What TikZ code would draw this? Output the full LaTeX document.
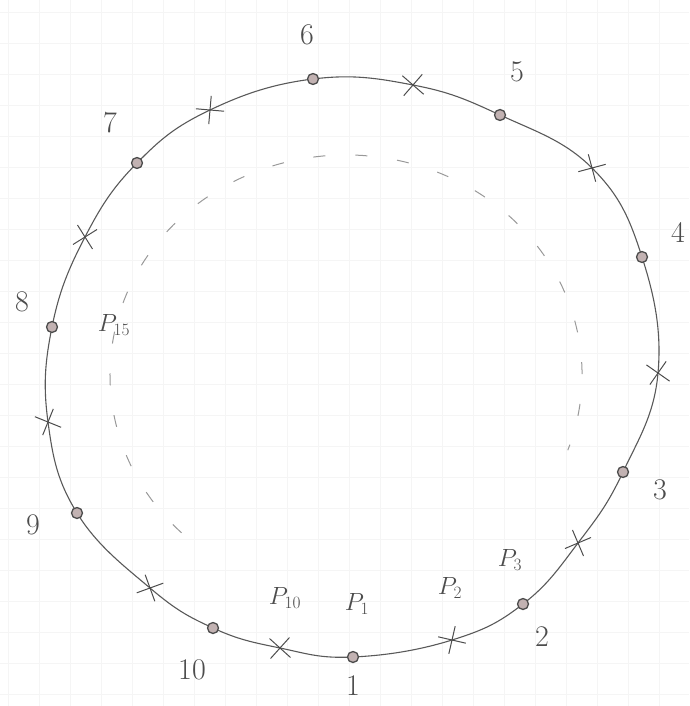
\documentclass[tikz,border=0pt]{standalone}
\usepackage{tikz}
\usetikzlibrary{shapes.misc}
\tikzstyle{ring}=[circle, draw=black!70, fill=red!20!black!30, line width=1.3pt, minimum size=11pt, inner sep=0pt]
\tikzstyle{xmark}=[cross out, draw=black!70, line width=1pt, minimum size=19pt, inner sep=0pt]
\tikzstyle{lab}=[text=black!70, inner sep=0pt, font=\fontsize{30}{34}\selectfont]
\tikzstyle{plab}=[text=black!70, inner sep=0pt, font=\fontsize{24}{28}\selectfont]
\tikzstyle{pencil}=[draw=black!65, line width=1.1pt]

\begin{document}
\begin{tikzpicture}[x=1pt,y=-1pt]
    \useasboundingbox (0,0) rectangle (689,706);
    % squared paper
    \foreach \g in {8,39,...,689} \draw[black!4, line width=0.8pt] (\g,0) -- (\g,706);
    \foreach \g in {12,43,...,706} \draw[black!4, line width=0.8pt] (0,\g) -- (689,\g);
    % points on the curve
    \coordinate (c1) at (353,657);  \coordinate (x1) at (452,640);
    \coordinate (c2) at (523,604);  \coordinate (x2) at (578,543);
    \coordinate (c3) at (623,472);  \coordinate (x3) at (658,373);
    \coordinate (c4) at (642,257);  \coordinate (x4) at (592,168);
    \coordinate (c5) at (500,115);  \coordinate (x5) at (413,85);
    \coordinate (c6) at (313,79);   \coordinate (x6) at (210,110);
    \coordinate (c7) at (137,163);  \coordinate (x7) at (85,237);
    \coordinate (c8) at (52,327);   \coordinate (x8) at (48,422);
    \coordinate (c9) at (77,513);   \coordinate (x9) at (150,588);
    \coordinate (c10) at (213,628); \coordinate (x10) at (280,648);
    \draw[pencil] plot[smooth cycle, tension=0.7] coordinates {(c1) (x1) (c2) (x2) (c3) (x3) (c4) (x4) (c5) (x5) (c6) (x6) (c7) (x7) (c8) (x8) (c9) (x9) (c10) (x10)};
    % inner dashed arc
    \coordinate (ctr) at (346,375);
    \draw[black!40, line width=1pt, dash pattern=on 12pt off 30pt, dash phase=6pt] (ctr) ++(20:236 and 220) arc[start angle=20, end angle=-230, x radius=236, y radius=220];
    % markers
    \foreach \i in {1,...,10} \node[ring] (r\i) at (c\i) {};
    \foreach \i/\a in {1/32,2/68,3/100,4/150,5/184,6/40,7/77,8/113,9/155,10/183} \node[xmark, rotate=\a] (m\i) at (x\i) {};
    % labels
    \node[lab] (l1) at (353,686) {1};
    \node[lab] (l2) at (542,637) {2};
    \node[lab] (l3) at (660,490) {3};
    \node[lab] (l4) at (678,232) {4};
    \node[lab] (l5) at (517,72) {5};
    \node[lab] (l6) at (307,35) {6};
    \node[lab] (l7) at (110,123) {7};
    \node[lab] (l8) at (22,302) {8};
    \node[lab] (l9) at (33,525) {9};
    \node[lab] (l10) at (192,670) {10};
    \node[plab] (p1) at (357,604) {$P_{1}$};
    \node[plab] (p2) at (450,588) {$P_{2}$};
    \node[plab] (p3) at (510,560) {$P_{3}$};
    \node[plab] (p10) at (285,598) {$P_{10}$};
    \node[plab] (p15) at (114,325) {$P_{15}$};
\end{tikzpicture}
\end{document}
